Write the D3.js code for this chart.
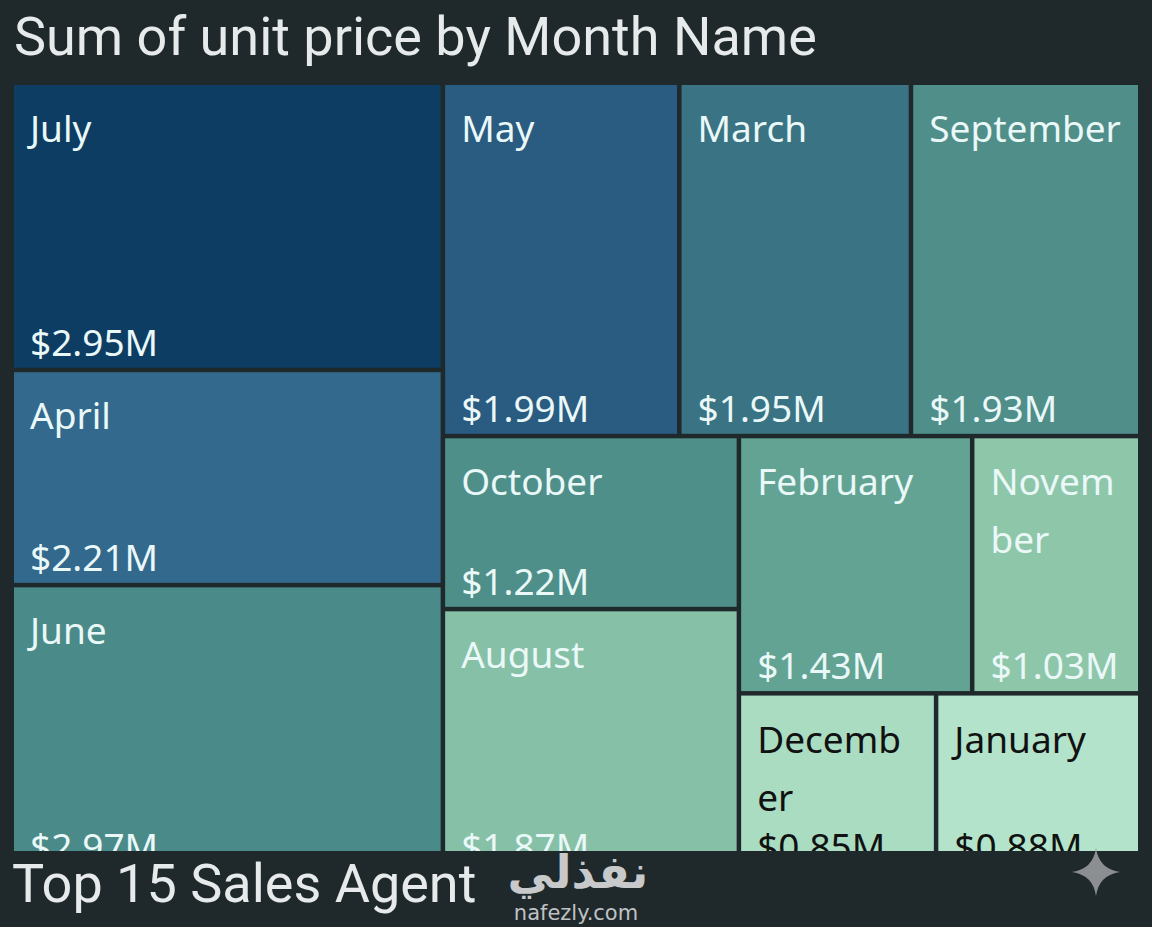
<!DOCTYPE html>
<html>
<head>
<meta charset="utf-8">
<script src="https://cdn.jsdelivr.net/npm/d3@7"></script>
<style>
  body { margin: 0; background: #1f292c; }
  svg { display: block; }
</style>
</head>
<body>
<div id="chart"></div>
<script>
// data
var months = ["July", "April", "June", "May", "March", "September",
              "October", "August", "February", "November", "December", "January"];
var unitPrice = [2.95, 2.21, 2.97, 1.99, 1.95, 1.93, 1.22, 1.87, 1.43, 1.03, 0.85, 0.88]; // $M

// how the tiles are nested (columns / rows), sliceDice alternates per level
var layoutGroups = [
  ["July", "April", "June"],
  [["May", "March", "September"],
   [["October", "August"],
    [["February", "November"], ["December", "January"]]]]
];

var cellColors = ["#0e3d63", "#33698d", "#4a8a88", "#2a5b81", "#3a7383", "#4f8e89",
                  "#4f8f8a", "#86c0a7", "#62a393", "#8ec6aa", "#aadcc2", "#b3e3ca"];

var width = 1152, height = 927;
var margin = {top: 85, left: 14, right: 14};
var mapW = width - margin.left - margin.right,
    mapH = 787,
    bandTop = 851;

var svg = d3.select("#chart")
    .append("svg")
    .attr("width", width)
    .attr("height", height);

svg.append("rect")
    .attr("width", width)
    .attr("height", height)
    .attr("fill", "#1f292c");

// the next visual's header hides the bottom of the treemap
svg.append("clipPath")
    .attr("id", "mapClip")
  .append("rect")
    .attr("x", 0)
    .attr("y", 0)
    .attr("width", mapW)
    .attr("height", bandTop - margin.top);

// title
svg.append("text")
    .attr("x", 14)
    .attr("y", 55)
    .attr("font-family", "Roboto, sans-serif")
    .attr("font-size", 54)
    .attr("fill", "#e7eaeb")
    .text("Sum of unit price by Month Name");

// build the hierarchy from the groups
function toNode(g) {
  if (Array.isArray(g)) return {children: g.map(toNode)};
  return {name: g, value: unitPrice[months.indexOf(g)]};
}

var root = d3.hierarchy(toNode(layoutGroups))
    .sum(d => d.value || 0);

d3.treemap()
    .tile(d3.treemapSliceDice)
    .size([mapW, mapH])
    .paddingInner(4.5)(root);

var color = d3.scaleOrdinal(months, cellColors);
var fmt = v => "$" + d3.format(".2f")(v) + "M";

var g = svg.append("g")
    .attr("transform", "translate(" + margin.left + "," + margin.top + ")")
  .append("g")
    .attr("clip-path", "url(#mapClip)");

var cell = g.selectAll("g.cell")
    .data(root.leaves())
    .join("g")
      .attr("class", "cell")
      .attr("transform", d => "translate(" + d.x0 + "," + d.y0 + ")");

cell.append("rect")
    .attr("width", d => d.x1 - d.x0)
    .attr("height", d => d.y1 - d.y0)
    .attr("fill", d => color(d.data.name));

function textFill(d) {
  return d3.lab(color(d.data.name)).l > 80 ? "#111111" : "#eaf8f8";
}

var fontFam = "'Noto Sans', 'Open Sans', sans-serif",
    fontSize = 37,
    padX = 16,
    lineH = 58;

// month names, broken by character when they don't fit the tile
cell.each(function(d) {
  var avail = (d.x1 - d.x0) - 2 * padX;
  var t = d3.select(this).append("text")
      .attr("font-family", fontFam)
      .attr("font-size", fontSize)
      .attr("fill", textFill(d));
  var name = d.data.name, line = "", lines = [];
  var probe = t.append("tspan");
  for (var i = 0; i < name.length; i++) {
    probe.text(line + name[i]);
    if (line.length && probe.node().getComputedTextLength() > avail) {
      lines.push(line);
      line = name[i];
    } else {
      line += name[i];
    }
  }
  lines.push(line);
  probe.remove();
  lines.forEach(function(l, k) {
    t.append("tspan")
      .attr("x", padX)
      .attr("y", 57 + k * lineH)
      .text(l);
  });
});

cell.append("text")
    .attr("x", padX)
    .attr("y", d => (d.y1 - d.y0) - 12)
    .attr("font-family", fontFam)
    .attr("font-size", fontSize)
    .attr("fill", textFill)
    .text(d => fmt(d.data.value));

svg.append("text")
    .attr("x", 12)
    .attr("y", 902)
    .attr("font-family", "Roboto, sans-serif")
    .attr("font-size", 54)
    .attr("fill", "#e7eaeb")
    .text("Top 15 Sales Agent");

// watermark
svg.append("text")
    .attr("x", 578)
    .attr("y", 888)
    .attr("text-anchor", "middle")
    .attr("font-family", "'DejaVu Sans', sans-serif")
    .attr("font-weight", 700)
    .attr("font-size", 46)
    .attr("fill", "#c7c9ca")
    .text("نفذلي");

svg.append("text")
    .attr("x", 576)
    .attr("y", 920)
    .attr("text-anchor", "middle")
    .attr("font-family", "'DejaVu Sans', sans-serif")
    .attr("font-size", 21)
    .attr("fill", "#bfc2c3")
    .text("nafezly.com");

// sparkle icon
svg.append("path")
    .attr("transform", "translate(1096,872)")
    .attr("d", "M0,-24 Q3,-3 24,0 Q3,3 0,24 Q-3,3 -24,0 Q-3,-3 0,-24 Z")
    .attr("fill", "#8b8f92");
</script>
</body>
</html>
